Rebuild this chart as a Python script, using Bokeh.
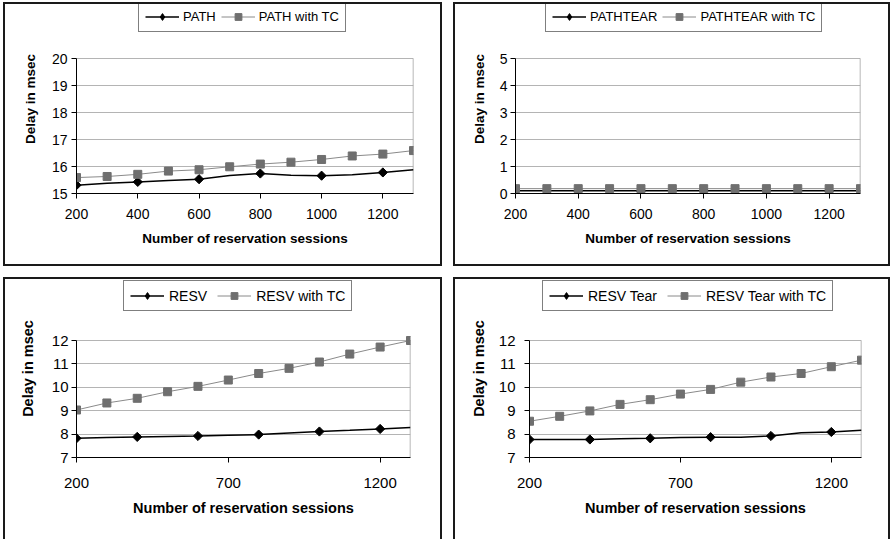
import math
from bokeh.plotting import figure
from bokeh.models import FixedTicker, Legend, LegendItem, Range1d
from bokeh.layouts import row, column
from bokeh.embed import file_html
from bokeh.resources import INLINE

# ---------------- data ----------------
sessions = [200, 300, 400, 500, 600, 700, 800, 900, 1000, 1100, 1200, 1300]

path = [15.31, 15.38, 15.43, 15.48, 15.53, 15.67, 15.74, 15.68, 15.66, 15.69, 15.78, 15.88]
path_tc = [15.59, 15.63, 15.71, 15.83, 15.88, 15.99, 16.09, 16.16, 16.26, 16.39, 16.46, 16.59]

pathtear = [0.10, 0.10, 0.10, 0.10, 0.10, 0.10, 0.10, 0.10, 0.10, 0.10, 0.10, 0.10]
pathtear_tc = [0.18, 0.18, 0.18, 0.18, 0.18, 0.18, 0.18, 0.18, 0.18, 0.18, 0.18, 0.18]

resv = [7.82, 7.85, 7.88, 7.90, 7.92, 7.95, 7.98, 8.05, 8.11, 8.16, 8.22, 8.28]
resv_tc = [9.03, 9.33, 9.53, 9.81, 10.04, 10.31, 10.59, 10.81, 11.08, 11.42, 11.72, 12.00]

resvtear = [7.77, 7.77, 7.77, 7.80, 7.82, 7.85, 7.87, 7.87, 7.92, 8.06, 8.09, 8.16]
resvtear_tc = [8.55, 8.76, 8.99, 9.27, 9.47, 9.71, 9.91, 10.22, 10.44, 10.59, 10.88, 11.16]

x_ticks_top = [200, 400, 600, 800, 1000, 1200]
x_ticks_bottom = [200, 700, 1200]
y_ticks_path = [15, 16, 17, 18, 19, 20]
y_ticks_pathtear = [0, 1, 2, 3, 4, 5]
y_ticks_resv = [7, 8, 9, 10, 11, 12]

x_title = "Number of reservation sessions"
y_title = "Delay in msec"

FONT = "Liberation Sans"


def make_panel(y_plain, y_tc, names, y_ticks, x_ticks, geom, fs, leg, stand, border_style):
    W, H, left, right, top_space, plot_h, bottom = geom
    tick_fs, title_fs, leg_fs = fs
    xls, xts, yls, yts = stand
    frame_h = top_space + plot_h
    y0, y1 = y_ticks[0], y_ticks[-1]
    # the frame extends above the plot area to hold the legend
    y_end = y0 + (y1 - y0) * frame_h / plot_h
    p = figure(width=W, height=H,
               x_range=Range1d(sessions[0], sessions[-1]),
               y_range=Range1d(y0, y_end),
               output_backend="svg", toolbar_location=None,
               min_border_left=left, min_border_right=right,
               min_border_top=0, min_border_bottom=bottom,
               background_fill_color="white", border_fill_color="white",
               outline_line_color=None)
    p.styles = border_style

    p.xgrid.visible = False
    p.ygrid.ticker = FixedTicker(ticks=y_ticks)
    p.ygrid.grid_line_color = "#b4b4b4"
    p.ygrid.grid_line_width = 1
    # right edge of the plot area
    p.line([sessions[-1], sessions[-1]], [y0, y1], line_color="#a0a0a0", line_width=1.5)

    p.xaxis.ticker = FixedTicker(ticks=x_ticks)
    p.yaxis.ticker = FixedTicker(ticks=y_ticks)
    p.yaxis.bounds = (y0, y1)
    for ax in (p.xaxis, p.yaxis):
        ax.axis_line_color = "black"
        ax.axis_line_width = 1
        ax.major_tick_line_color = "black"
        ax.major_tick_in = 0
        ax.major_tick_out = 5
        ax.minor_tick_line_color = None
        ax.major_label_text_font = FONT
        ax.major_label_text_font_size = tick_fs
        ax.major_label_text_color = "black"
        ax.axis_label_text_font = FONT
        ax.axis_label_text_font_size = title_fs
        ax.axis_label_text_font_style = "bold"
        ax.axis_label_text_color = "black"
    p.xaxis.axis_label = x_title
    p.yaxis.axis_label = y_title
    p.xaxis.major_label_standoff = xls
    p.xaxis.axis_label_standoff = xts
    p.yaxis.major_label_standoff = yls
    p.yaxis.axis_label_standoff = yts

    # plain series: line through every reading, diamond markers at every 200
    l1 = p.line(sessions, y_plain, line_color="black", line_width=1.5)
    p.scatter(sessions[0:11:2], y_plain[0:11:2], marker="square", angle=math.pi / 4,
              size=6.5, fill_color="black", line_color="black")
    # diamond used only for the legend swatch
    d1 = p.scatter(sessions[0:11:2], y_plain[0:11:2], marker="diamond", size=9,
                   fill_color="black", line_color="black", visible=False)
    # with TC series
    l2 = p.line(sessions, y_tc, line_color="#8a8a8a", line_width=1)
    s2 = p.scatter(sessions, y_tc, marker="square", size=8,
                   fill_color="#6f6f6f", line_color="#6f6f6f")

    vx, gap, pad, spacing, standoff, lh = leg
    legend = Legend(items=[LegendItem(label=names[0], renderers=[l1, d1]),
                           LegendItem(label=names[1], renderers=[l2, s2])],
                    orientation="horizontal", location=(vx, plot_h + gap),
                    border_line_color="black", border_line_width=1,
                    background_fill_color="white", background_fill_alpha=1,
                    inactive_fill_alpha=0,
                    padding=pad, spacing=spacing, label_standoff=standoff,
                    glyph_width=34, glyph_height=lh, label_height=lh, margin=0,
                    label_text_font=FONT, label_text_font_size=leg_fs,
                    label_text_color="black")
    p.add_layout(legend)
    return p


full_border = {"border": "2px solid #1a1a1a"}
open_border = {"border-left": "2px solid #1a1a1a", "border-top": "2px solid #1a1a1a",
               "border-right": "2px solid #1a1a1a", "border-bottom": "none"}

top_fs = ("14px", "13.5px", "13px")
bot_fs = ("15px", "14.5px", "14px")

p1 = make_panel(path, path_tc, ["PATH", "PATH with TC"], y_ticks_path, x_ticks_top,
                (439, 264, 71, 31, 54, 135, 75), top_fs, (62, 26, 6, 5, 4, 17),
                (10, 9, 4, 11), full_border)
p2 = make_panel(pathtear, pathtear_tc, ["PATHTEAR", "PATHTEAR with TC"], y_ticks_pathtear,
                x_ticks_top, (437, 264, 60, 32, 54, 135, 75), top_fs, (30, 26, 6, 5, 4, 17),
                (10, 9, 3, 10), full_border)
p3 = make_panel(resv, resv_tc, ["RESV", "RESV with TC"], y_ticks_resv, x_ticks_bottom,
                (439, 262, 71, 34, 61, 117, 84), bot_fs, (47, 29, 6, 10, 5, 17),
                (15, 9, 3, 13), open_border)
p4 = make_panel(resvtear, resvtear_tc, ["RESV Tear", "RESV Tear with TC"], y_ticks_resv,
                x_ticks_bottom, (437, 262, 74, 31, 61, 117, 84), bot_fs, (13, 29, 6, 10, 5, 17),
                (15, 9, 9, 9), open_border)

layout = column(row(p1, p2, spacing=11), row(p3, p4, spacing=11), spacing=11)
layout.margin = (2, 0, 0, 3)

with open("out.html", "w") as f:
    f.write(file_html(layout, INLINE))
